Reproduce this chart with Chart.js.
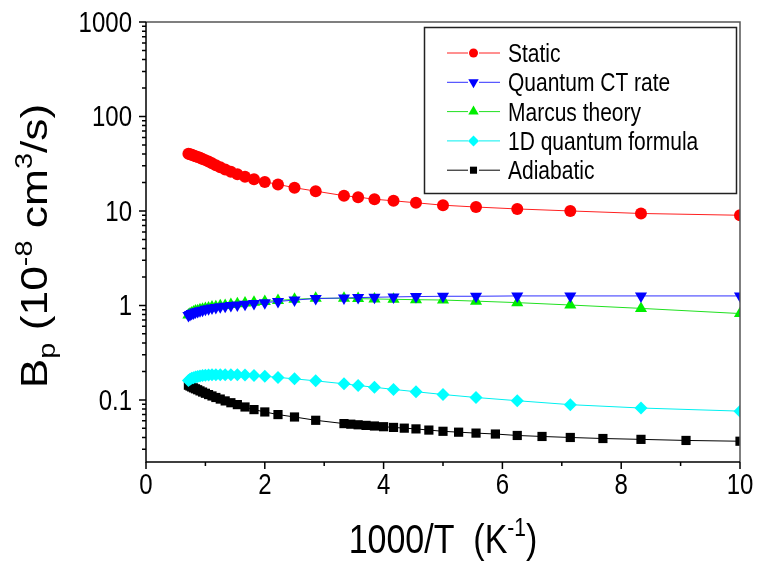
<!DOCTYPE html>
<html>
<head>
<meta charset="utf-8">
<title>Bp vs 1000/T</title>
<script src="https://cdn.jsdelivr.net/npm/chart.js@4.4.1/dist/chart.umd.min.js"></script>
<style>
  html, body { margin: 0; padding: 0; background: #fff; }
  canvas { display: block; }
</style>
</head>
<body>
<canvas id="bpChart" width="761" height="570"></canvas>
<script>
// 1000/T (K^-1) of the temperatures in the runs
const xMain = [0.714, 0.741, 0.769, 0.8, 0.833, 0.87, 0.909, 0.952, 1.0, 1.053, 1.111,
  1.176, 1.25, 1.333, 1.429, 1.538, 1.667, 1.818, 2.0, 2.222, 2.5, 2.857,
  3.333, 3.571, 3.846, 4.167, 4.545, 5.0, 5.556, 6.25, 7.143, 8.333, 10.0];
const xAdiabatic = [0.714, 0.741, 0.769, 0.8, 0.833, 0.87, 0.909, 0.952, 1.0, 1.053, 1.111,
  1.176, 1.25, 1.333, 1.429, 1.538, 1.667, 1.818, 2.0, 2.222, 2.5, 2.857,
  3.333, 3.448, 3.571, 3.704, 3.846, 4.0, 4.167, 4.348, 4.545, 4.762, 5.0,
  5.263, 5.556, 5.882, 6.25, 6.667, 7.143, 7.692, 8.333, 9.091, 10.0];

const staticVals = [40.3, 39.8, 39.3, 38.7, 38.0, 37.3, 36.5, 35.5, 34.5, 33.3, 32.0,
  30.5, 29.0, 27.5, 26.0, 24.5, 23.0, 21.6, 20.3, 19.1, 17.6, 16.2,
  14.5, 14.0, 13.3, 12.8, 12.2, 11.5, 11.0, 10.5, 10.0, 9.4, 9.0];
const quantumVals = [0.78, 0.80, 0.82, 0.83, 0.85, 0.86, 0.88, 0.89, 0.91, 0.92, 0.94,
  0.95, 0.97, 0.98, 1.0, 1.01, 1.03, 1.05, 1.07, 1.10, 1.14, 1.18,
  1.20, 1.21, 1.22, 1.23, 1.24, 1.25, 1.25, 1.26, 1.26, 1.26, 1.26];
const marcusVals = [0.79, 0.81, 0.83, 0.85, 0.87, 0.88, 0.90, 0.91, 0.93, 0.94, 0.96,
  0.97, 0.99, 1.0, 1.02, 1.04, 1.06, 1.08, 1.10, 1.13, 1.16, 1.19,
  1.19, 1.18, 1.17, 1.16, 1.15, 1.14, 1.11, 1.07, 1.01, 0.93, 0.82];
const quantum1dVals = [0.160, 0.165, 0.169, 0.172, 0.175, 0.177, 0.179, 0.181, 0.182, 0.183, 0.184,
  0.185, 0.185, 0.185, 0.185, 0.184, 0.183, 0.181, 0.178, 0.173, 0.167, 0.159,
  0.148, 0.142, 0.136, 0.129, 0.122, 0.114, 0.106, 0.098, 0.089, 0.082, 0.076];
const adiabaticVals = [0.143, 0.140, 0.137, 0.134, 0.131, 0.128, 0.1245, 0.121, 0.1175, 0.1138, 0.110,
  0.106, 0.102, 0.0975, 0.0933, 0.0891, 0.0841, 0.0789, 0.0745, 0.0699, 0.0659, 0.0608,
  0.0561, 0.0553, 0.0545, 0.0537, 0.0529, 0.0520, 0.0511, 0.0502, 0.0493, 0.0479, 0.0465,
  0.0455, 0.0445, 0.0435, 0.0420, 0.0410, 0.0400, 0.0390, 0.0382, 0.0372, 0.0365];

const xTicks = [0, 2, 4, 6, 8, 10];
const xMinorTicks = [1, 3, 5, 7, 9];
const yTicks = [0.1, 1, 10, 100, 1000];
const yTickLabels = ["0.1", "1", "10", "100", "1000"];
const yMin = 0.022, yMax = 1000;

const FONT = "Arial, 'Liberation Sans', sans-serif";
const SY = 1.2; // lettering in the original looks a bit taller than wide

const yMinorTicks = [];
[0.01, 0.1, 1, 10, 100].forEach(d => {
  for (let m = 2; m <= 9; m++) {
    const v = d * m;
    if (v >= yMin && v <= yMax) yMinorTicks.push(v);
  }
});

function series(label, xs, ys, color, lineColor, style, radius, rotation) {
  return {
    label: label,
    data: xs.map((x, i) => ({ x: x, y: ys[i] })),
    showLine: true,
    borderColor: lineColor,
    borderWidth: 1,
    backgroundColor: color,
    pointBackgroundColor: color,
    pointBorderColor: color,
    pointBorderWidth: 0,
    pointStyle: style,
    pointRadius: radius,
    pointHoverRadius: radius,
    pointRotation: rotation || 0,
    tension: 0
  };
}

const datasets = [
  series("Static", xMain, staticVals, "#ff0000", "#ff2020", "circle", 6),
  series("Quantum CT rate", xMain, quantumVals, "#0000ff", "#3030ff", "triangle", 7, 180),
  series("Marcus theory", xMain, marcusVals, "#00ee00", "#20e020", "triangle", 7),
  series("1D quantum formula", xMain, quantum1dVals, "#00ffff", "#00f0f0", "rectRot", 6.5),
  series("Adiabatic", xAdiabatic, adiabaticVals, "#000000", "#000000", "rect", 6.5)
];

// text with sub/superscripts: parts = [text, size, dy]
function drawRich(ctx, parts, x, y, align) {
  let w = 0;
  parts.forEach(p => { ctx.font = p[1] + "px " + FONT; w += ctx.measureText(p[0]).width; });
  let cx = align === "center" ? x - w / 2 : x;
  parts.forEach(p => {
    ctx.font = p[1] + "px " + FONT;
    ctx.fillText(p[0], cx, y + p[2]);
    cx += ctx.measureText(p[0]).width;
  });
}

function stretched(ctx, x, y, fn) {
  ctx.save();
  ctx.translate(x, y);
  ctx.scale(1, SY);
  fn();
  ctx.restore();
}

function marker(ctx, style, rot, r, x, y) {
  ctx.beginPath();
  if (style === "circle") {
    ctx.arc(x, y, r, 0, Math.PI * 2);
  } else if (style === "triangle") {
    const s = rot ? -1 : 1;
    ctx.moveTo(x, y - s * r);
    ctx.lineTo(x + r * 0.866, y + s * r * 0.5);
    ctx.lineTo(x - r * 0.866, y + s * r * 0.5);
    ctx.closePath();
  } else if (style === "rectRot") {
    ctx.moveTo(x, y - r); ctx.lineTo(x + r, y); ctx.lineTo(x, y + r); ctx.lineTo(x - r, y);
    ctx.closePath();
  } else {
    const h = r * Math.SQRT1_2;
    ctx.rect(x - h, y - h, 2 * h, 2 * h);
  }
  ctx.fill();
}

const decorPlugin = {
  id: "decor",
  afterDraw(chart) {
    const ctx = chart.ctx;
    const a = chart.chartArea;
    const xs = chart.scales.x, ys = chart.scales.y;
    ctx.save();

    // frame
    ctx.lineWidth = 1.5;
    ctx.strokeStyle = "#555";
    ctx.beginPath();
    ctx.moveTo(a.left, a.top); ctx.lineTo(a.right, a.top); ctx.lineTo(a.right, a.bottom);
    ctx.stroke();
    ctx.strokeStyle = "#000";
    ctx.beginPath();
    ctx.moveTo(a.left, a.top); ctx.lineTo(a.left, a.bottom); ctx.lineTo(a.right, a.bottom);
    ctx.stroke();

    // ticks
    ctx.lineWidth = 1.5;
    ctx.beginPath();
    xTicks.forEach(v => { const p = xs.getPixelForValue(v); ctx.moveTo(p, a.bottom); ctx.lineTo(p, a.bottom + 7); });
    xMinorTicks.forEach(v => { const p = xs.getPixelForValue(v); ctx.moveTo(p, a.bottom); ctx.lineTo(p, a.bottom + 4); });
    yTicks.forEach(v => { const p = ys.getPixelForValue(v); ctx.moveTo(a.left - 7, p); ctx.lineTo(a.left, p); });
    yMinorTicks.forEach(v => { const p = ys.getPixelForValue(v); ctx.moveTo(a.left - 4, p); ctx.lineTo(a.left, p); });
    ctx.stroke();

    // tick labels
    ctx.fillStyle = "#000";
    ctx.textBaseline = "alphabetic";
    ctx.font = "24px " + FONT;
    ctx.textAlign = "center";
    xTicks.forEach(v => {
      stretched(ctx, xs.getPixelForValue(v), a.bottom + 32, () => ctx.fillText(String(v), 0, 0));
    });
    ctx.textAlign = "right";
    yTicks.forEach((v, i) => {
      stretched(ctx, a.left - 14, ys.getPixelForValue(v) + 10, () => ctx.fillText(yTickLabels[i], 0, 0));
    });

    // axis titles
    ctx.textAlign = "left";
    stretched(ctx, (a.left + a.right) / 2, 553, () => {
      drawRich(ctx, [["1000/T  (K", 34, 0], ["-1", 21, -14], [")", 34, 0]], 0, 0, "center");
    });
    ctx.save();
    ctx.translate(47, 246);
    ctx.scale(1, SY);
    ctx.rotate(-Math.PI / 2);
    drawRich(ctx, [["B", 37, 0], ["p", 24, 8], [" (10", 37, 0], ["-8", 24, -15],
      [" cm", 37, 0], ["3", 24, -15], ["/s)", 37, 0]], 0, 0, "center");
    ctx.restore();

    // legend
    ctx.fillStyle = "#fff";
    ctx.fillRect(424.5, 27.5, 312, 166);
    ctx.strokeStyle = "#222";
    ctx.lineWidth = 1.5;
    ctx.strokeRect(424.5, 27.5, 312, 166);
    const legendR = [4.5, 6, 6, 5.5, 5];
    chart.data.datasets.forEach((ds, i) => {
      const y = 53 + i * 29.3;
      ctx.strokeStyle = ds.borderColor;
      ctx.lineWidth = 1;
      ctx.beginPath();
      ctx.moveTo(447, y); ctx.lineTo(468, y);
      ctx.moveTo(479, y); ctx.lineTo(500, y);
      ctx.stroke();
      ctx.fillStyle = ds.pointBackgroundColor;
      marker(ctx, ds.pointStyle, ds.pointRotation, legendR[i], 473.5, y);
      ctx.fillStyle = "#000";
      ctx.font = "21px " + FONT;
      ctx.textAlign = "left";
      stretched(ctx, 508, y + 9, () => ctx.fillText(ds.label, 0, 0));
    });

    ctx.restore();
  }
};

new Chart(document.getElementById("bpChart"), {
  type: "scatter",
  data: { datasets: datasets },
  options: {
    responsive: false,
    animation: false,
    devicePixelRatio: 1,
    events: [],
    layout: { padding: { top: 22, right: 21, left: 0, bottom: 0 } },
    plugins: { legend: { display: false }, tooltip: { enabled: false } },
    scales: {
      x: {
        type: "linear", min: 0, max: 10,
        grid: { display: false }, border: { display: false },
        ticks: { display: false },
        afterFit(scale) { scale.height = 108; }
      },
      y: {
        type: "logarithmic", min: yMin, max: yMax,
        grid: { display: false }, border: { display: false },
        ticks: { display: false },
        afterFit(scale) { scale.width = 146; }
      }
    }
  },
  plugins: [decorPlugin]
});
</script>
</body>
</html>
